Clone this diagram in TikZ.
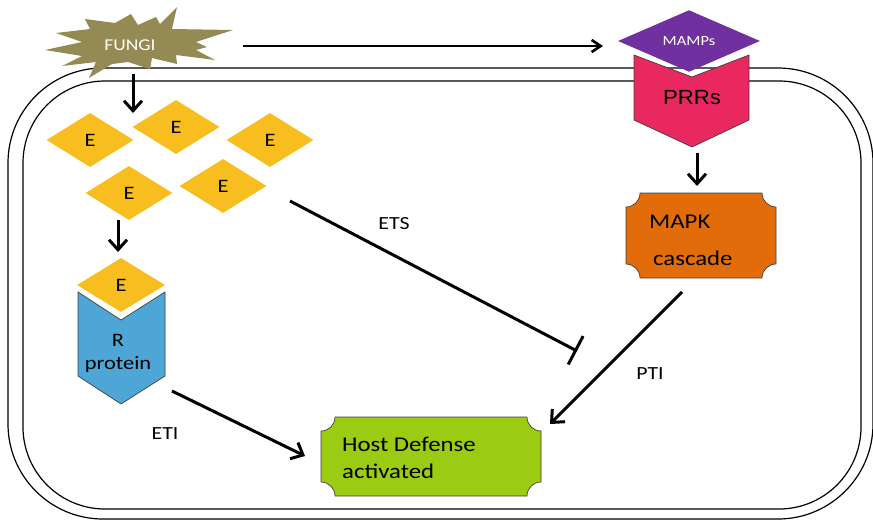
\documentclass[tikz,border=0pt]{standalone}
\usepackage{fontspec}
\setmainfont{Carlito}[FakeStretch=1.18]
\newfontfamily\arialf{Liberation Sans}[FakeStretch=1.08]
\usetikzlibrary{shapes.geometric,arrows.meta}
\definecolor{fungiC}{HTML}{948A54}
\definecolor{mampsC}{HTML}{7030A0}
\definecolor{prrC}{HTML}{E8285E}
\definecolor{mapkC}{HTML}{E36C0A}
\definecolor{egold}{HTML}{F8BD1F}
\definecolor{rblue}{HTML}{4DA6D5}
\definecolor{hostC}{HTML}{9BCB13}
\newcommand\plq[5]{({#1+#5},#2) -- ({#3-#5},#2) .. controls ({#3-#5},{#2+0.552*#5}) and ({#3-0.552*#5},{#2+#5}) .. (#3,{#2+#5}) -- (#3,{#4-#5}) .. controls ({#3-0.552*#5},{#4-#5}) and ({#3-#5},{#4-0.552*#5}) .. ({#3-#5},#4) -- ({#1+#5},#4) .. controls ({#1+#5},{#4-0.552*#5}) and ({#1+0.552*#5},{#4-#5}) .. (#1,{#4-#5}) -- (#1,{#2+#5}) .. controls ({#1+0.552*#5},{#2+#5}) and ({#1+#5},{#2+0.552*#5}) .. ({#1+#5},#2) -- cycle}
\begin{document}
\begin{tikzpicture}[x=1pt,y=-1pt,
  wall/.style={line width=1.2pt,draw=black},
  ediam/.style={diamond,fill=egold,minimum width=87pt,minimum height=54pt,inner sep=0pt,font=\fontsize{19}{22}\selectfont},
  arr/.style={line width=3pt,-{Straight Barb[length=10pt,width=18pt]}},
  lbl/.style={inner sep=0pt,font=\fontsize{18.5}{22}\selectfont},
  txt/.style={inner sep=0pt,anchor=base west,font=\fontsize{21}{25}\selectfont},
  shp/.style={draw=black!75,line width=0.7pt}]
\useasboundingbox (0,0) rectangle (873,520);
% cell walls
\draw[wall,rounded corners=95pt] (8,68) rectangle (873,519);
\draw[wall,rounded corners=82pt] (23,81) rectangle (861,509);
% fungi
\fill[fungiC] (45,50) -- (82,42) -- (56,33) -- (90,29) -- (85,19) -- (115,23) -- (131,14) -- (138,25) -- (156,17) -- (160,24) -- (177,7) -- (172,29) -- (233,30) -- (196,42) -- (207,47) -- (196,50) -- (215,60) -- (176,55) -- (177,64) -- (152,58) -- (150,69) -- (128,62) -- (112,64) -- (89,78) -- (96,62) -- (62,66) -- (82,56) -- cycle;
\node[inner sep=0pt,text=white,font=\fontsize{16.5}{19}\selectfont] (fungi) at (130,45) {FUNGI};
% MAMPs and PRRs
\node[diamond,fill=mampsC,minimum width=142pt,minimum height=52pt,inner sep=0pt,text=white,font=\fontsize{14}{16}\selectfont] (mamps) at (689,41) {MAMPs};
\filldraw[fill=prrC,shp] (634,55) -- (692,77) -- (749,55) -- (749,120) -- (692,147) -- (634,120) -- cycle;
\node[inner sep=0pt,font=\arialf\fontsize{20.5}{24}\selectfont] (prrs) at (692,98) {PRRs};
% MAPK cascade
\filldraw[fill=mapkC,shp] \plq{626}{193}{776}{278}{14};
\node[txt] (mapk) at (649,228) {MAPK};
\node[txt] (casc) at (653,265) {cascade};
% effectors
\node[ediam] (e1) at (90,140) {E};
\node[ediam] (e2) at (176,127) {E};
\node[ediam] (e3) at (270,140) {E};
\node[ediam] (e4) at (129,193) {E};
\node[ediam] (e5) at (223,186) {E};
% R protein
\filldraw[fill=rblue,shp] (78,292) -- (121,320) -- (165,292) -- (165,376) -- (121,404) -- (78,376) -- cycle;
\node[ediam,minimum width=88pt] (re) at (121,285) {E};
\node[inner sep=0pt,align=center,font=\fontsize{19}{23}\selectfont] (rprot) at (118,353) {R\\protein};
% host defense
\filldraw[fill=hostC,shp] \plq{321}{417}{541}{496}{14};
\node[txt] (host1) at (342,451) {Host Defense};
\node[txt] (host2) at (342,478) {activated};
% connector end points
\coordinate (fA) at (243,46);
\coordinate (fB) at (603,46);
\coordinate (fC) at (133,74);
\coordinate (fD) at (133,113);
\coordinate (pA) at (697,153);
\coordinate (pB) at (697,186);
\coordinate (eA) at (118,220);
\coordinate (eB) at (118,252);
\coordinate (mA) at (682,292);
\coordinate (mB) at (550,424);
\coordinate (sA) at (290,201);
\coordinate (sB) at (577,351);
\coordinate (rA) at (172,391);
\coordinate (rB) at (305,456);
% connectors
\draw[line width=2.6pt,-{Straight Barb[length=9pt,width=12pt]}] (fA) -- (fB);
\draw[arr] (fC) -- (fD);
\draw[arr] (pA) -- (pB);
\draw[arr] (eA) -- (eB);
\draw[arr] (mA) -- (mB);
\draw[line width=3pt,-{Bar[width=32pt]}] (sA) -- (sB);
\draw[arr] (rA) -- (rB);
% labels
\node[lbl] (ets) at (394,224) {ETS};
\node[lbl] (pti) at (650,374) {PTI};
\node[lbl] (eti) at (165,434) {ETI};
\end{tikzpicture}
\end{document}
